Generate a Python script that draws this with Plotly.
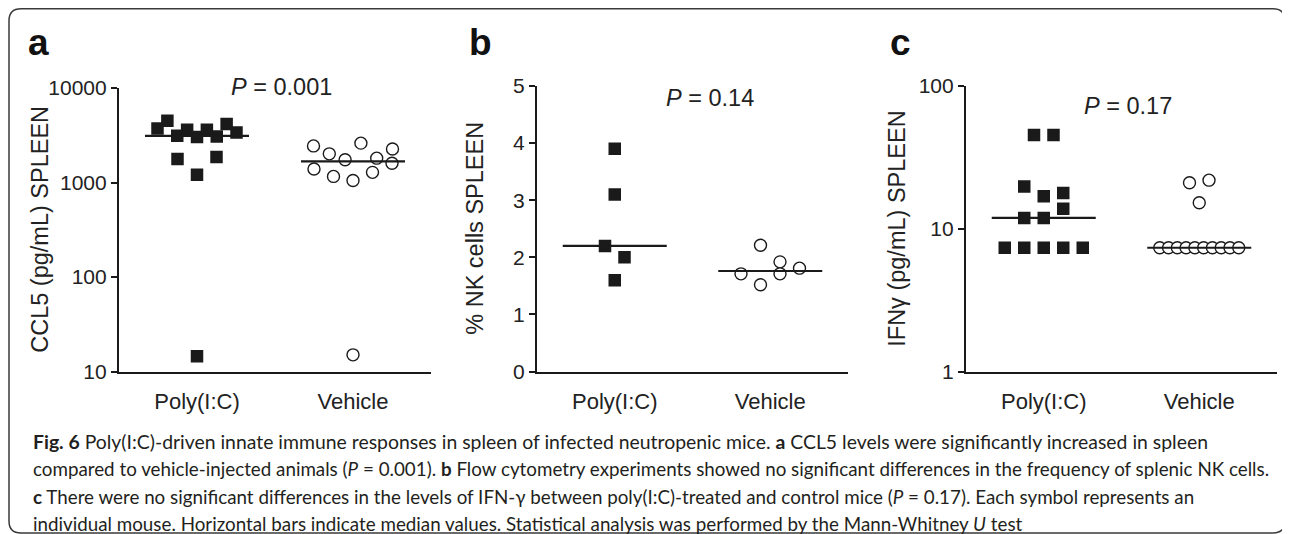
import numpy as np
import plotly.graph_objects as go

W, H = 1290, 534
PAGE_OFFSET = 8  # default body margin of the html page

categories = ["Poly(I:C)", "Vehicle"]

# Panel a: CCL5 (pg/mL) spleen
ccl5_poly = [3730, 4500, 3120, 3610, 3030, 3610, 3070, 4160, 3390, 1770, 1210, 1860, 14.5]
ccl5_vehicle = [2440, 2010, 1740, 2610, 1810, 2260, 1390, 1160, 1050, 1280, 1600, 15]
ccl5_ticks = [10, 100, 1000, 10000]
ccl5_ticktext = ["10", "100", "1000", "10000"]

# Panel b: % NK cells spleen
nk_poly = [2.2, 3.9, 3.1, 2.0, 1.6]
nk_vehicle = [2.21, 1.71, 1.52, 1.92, 1.71, 1.81]
nk_ticks = [0, 1, 2, 3, 4, 5]
nk_ticktext = ["0", "1", "2", "3", "4", "5"]

# Panel c: IFN-gamma (pg/mL) spleen
ifn_poly = [45.3, 45.3, 19.8, 16.9, 17.8, 11.9, 11.9, 13.8, 7.36, 7.36, 7.36, 7.36, 7.36]
ifn_vehicle = [15.2, 21.0, 21.9, 7.36, 7.36, 7.36, 7.36, 7.36, 7.36, 7.36, 7.36, 7.36, 7.36]
ifn_ticks = [1, 10, 100]
ifn_ticktext = ["1", "10", "100"]

p_values = ["0.001", "0.14", "0.17"]
panel_letters = ["a", "b", "c"]
y_titles = ["CCL5 (pg/mL) SPLEEN", "% NK cells SPLEEN", "IFNγ (pg/mL) SPLEEN"]

caption_lines = [
    "<b>Fig. 6</b> Poly(I:C)-driven innate immune responses in spleen of infected neutropenic mice. <b>a</b> CCL5 levels were significantly increased in spleen",
    "compared to vehicle-injected animals (<i>P</i> = 0.001). <b>b</b> Flow cytometry experiments showed no significant differences in the frequency of splenic NK cells.",
    "<b>c</b> There were no significant differences in the levels of IFN-γ between poly(I:C)-treated and control mice (<i>P</i> = 0.17). Each symbol represents an",
    "individual mouse. Horizontal bars indicate median values. Statistical analysis was performed by the Mann-Whitney <i>U</i> test",
]

# ---------------- layout geometry (screen pixels) ----------------
PANELS = [
    dict(x0=119, x1=431, y0=88, y1=371.5, log=True, rng=[1, 4],
         poly=ccl5_poly, veh=ccl5_vehicle, tv=ccl5_ticks, tt=ccl5_ticktext,
         title_x=40, p_x=281, p_y=87.5, let_x=38),
    dict(x0=537, x1=848, y0=86, y1=371.5, log=False, rng=[0, 5],
         poly=nk_poly, veh=nk_vehicle, tv=nk_ticks, tt=nk_ticktext,
         title_x=475, p_x=709.5, p_y=98, let_x=481),
    dict(x0=966, x1=1277, y0=86, y1=371.5, log=True, rng=[0, 2],
         poly=ifn_poly, veh=ifn_vehicle, tv=ifn_ticks, tt=ifn_ticktext,
         title_x=897, p_x=1128, p_y=106, let_x=900),
]


def fx(p):
    return (p - PAGE_OFFSET) / W


def fy(p):
    return 1 - (p - PAGE_OFFSET) / H


def swarm_offsets(values, transform, rng, height_px, spacing=19.5, row_gap=19.0, max_width=79.0):
    pos = [(transform(v) - rng[0]) / (rng[1] - rng[0]) * height_px for v in values]
    order = sorted(range(len(values)), key=lambda i: pos[i])
    rows = []
    for i in order:
        if rows and pos[i] - pos[rows[-1][0]] < row_gap:
            rows[-1].append(i)
        else:
            rows.append([i])
    off = [0.0] * len(values)
    for row in rows:
        row = sorted(row)
        k = len(row)
        step = spacing if k < 2 else min(spacing, max_width / (k - 1))
        for j, i in enumerate(row):
            off[i] = (j - (k - 1) / 2) * step
    return off


fig = go.Figure()
annotations = []
AX_FONT = "Liberation Sans, Arial, sans-serif"
INK = "#1a1a1a"

for n, P in enumerate(PANELS, start=1):
    xa = "x" if n == 1 else f"x{n}"
    ya = "y" if n == 1 else f"y{n}"
    transform = (lambda v: np.log10(v)) if P["log"] else (lambda v: v)
    height_px = P["y1"] - P["y0"]
    unit_px = (P["x1"] - P["x0"]) / 2.0

    for ci, (vals, is_poly) in enumerate([(P["poly"], True), (P["veh"], False)]):
        offs = swarm_offsets(vals, transform, P["rng"], height_px)
        xs = [ci + o / unit_px for o in offs]
        if is_poly:
            marker = dict(symbol="square", size=12.5, color=INK, line=dict(width=0))
        else:
            marker = dict(symbol="circle", size=12, color="white", line=dict(width=1.4, color=INK))
        fig.add_trace(go.Scatter(x=xs, y=vals, mode="markers", marker=marker,
                                 xaxis=xa, yaxis=ya, hoverinfo="skip", showlegend=False))
        med = float(np.median(vals))
        half = 52 / unit_px
        fig.add_trace(go.Scatter(x=[ci - half, ci + half], y=[med, med], mode="lines",
                                 line=dict(color=INK, width=2.2), xaxis=xa, yaxis=ya,
                                 hoverinfo="skip", showlegend=False))

    xkey = "xaxis" if n == 1 else f"xaxis{n}"
    ykey = "yaxis" if n == 1 else f"yaxis{n}"
    fig.layout[xkey] = dict(
        domain=[fx(P["x0"]), fx(P["x1"])], anchor=ya, range=[-0.5, 1.5], automargin=False,
        tickvals=[0, 1], ticktext=categories, showline=True, linewidth=2.2, linecolor=INK,
        ticks="outside", ticklen=9, tickcolor="rgba(0,0,0,0)", showgrid=False, zeroline=False,
        tickfont=dict(family=AX_FONT, size=22, color="#222"), fixedrange=True)
    ydict = dict(
        domain=[fy(P["y1"]), fy(P["y0"])], anchor=xa, range=P["rng"], automargin=False,
        tickvals=P["tv"], ticktext=P["tt"], showline=True, linewidth=2.2, linecolor=INK,
        ticks="outside", ticklen=6, tickwidth=2, tickcolor=INK, showgrid=False, zeroline=False,
        tickfont=dict(family=AX_FONT, size=21, color="#222"), fixedrange=True)
    if P["log"]:
        ydict["type"] = "log"
    fig.layout[ykey] = ydict

    # y-axis title
    annotations.append(dict(text=y_titles[n - 1], textangle=-90, xref="paper", yref="paper",
                            x=fx(P["title_x"]), y=fy((P["y0"] + P["y1"]) / 2),
                            xanchor="center", yanchor="middle", showarrow=False,
                            font=dict(family=AX_FONT, size=23.5, color="#222")))
    # P value
    annotations.append(dict(text=f"<i>P</i> = {p_values[n - 1]}", xref="paper", yref="paper",
                            x=fx(P["p_x"]), y=fy(P["p_y"]), xanchor="center", yanchor="middle",
                            showarrow=False, font=dict(family=AX_FONT, size=23.5, color="#222")))
    # panel letter
    annotations.append(dict(text=f"<b>{panel_letters[n - 1]}</b>", xref="paper", yref="paper",
                            x=fx(P["let_x"]), y=fy(42), xanchor="center", yanchor="middle",
                            showarrow=False, font=dict(family=AX_FONT, size=37, color="#111")))

# caption
CAP_FONT = "Lato, Open Sans, sans-serif"
line_centers = [441, 468, 496, 523]
line_sizes = [19.4, 18.8, 18.8, 18.8]
for line, c, s in zip(caption_lines, line_centers, line_sizes):
    annotations.append(dict(text=line, xref="paper", yref="paper", x=fx(31), y=fy(c),
                            xanchor="left", yanchor="middle", showarrow=False, align="left",
                            font=dict(family=CAP_FONT, size=s, color="#231f20")))

# rounded frame
x0, x1, y0, y1, r = 9, 1285, 8.8, 533, 12
path = (f"M {fx(x0 + r)},{fy(y0)} L {fx(x1 - r)},{fy(y0)} Q {fx(x1)},{fy(y0)} {fx(x1)},{fy(y0 + r)} "
        f"L {fx(x1)},{fy(y1 - r)} Q {fx(x1)},{fy(y1)} {fx(x1 - r)},{fy(y1)} "
        f"L {fx(x0 + r)},{fy(y1)} Q {fx(x0)},{fy(y1)} {fx(x0)},{fy(y1 - r)} "
        f"L {fx(x0)},{fy(y0 + r)} Q {fx(x0)},{fy(y0)} {fx(x0 + r)},{fy(y0)} Z")

fig.update_layout(
    width=W, height=H, margin=dict(l=0, r=0, t=0, b=0, pad=0, autoexpand=False),
    paper_bgcolor="white", plot_bgcolor="white", showlegend=False,
    annotations=annotations,
    shapes=[dict(type="path", path=path, xref="paper", yref="paper",
                 line=dict(color="#3a3a3a", width=1.5), layer="below")],
)

fig.write_html("out.html")
